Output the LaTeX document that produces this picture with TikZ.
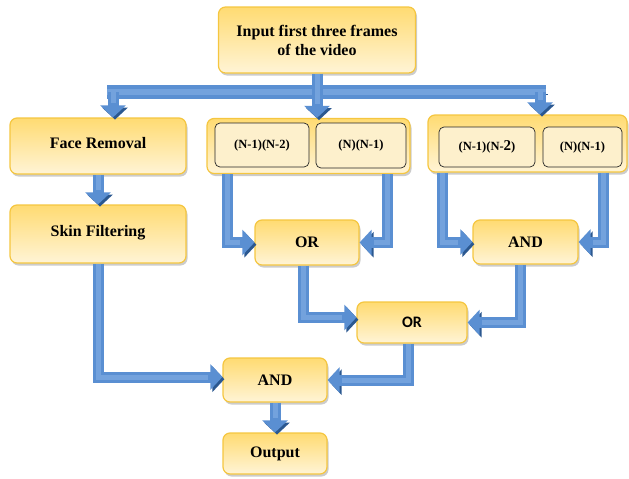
\documentclass[tikz,border=0pt]{standalone}
\usepackage{fontspec}
\setmainfont{Liberation Serif}
\newfontfamily\calib{Carlito}
\usetikzlibrary{arrows.meta,shadows,calc}
\definecolor{boxedge}{HTML}{F5C640}
\definecolor{boxtop}{HTML}{FFDB72}
\definecolor{boxbot}{HTML}{FFF4D6}
\definecolor{arrowblue}{HTML}{5A8FD2}
\definecolor{arrowlight}{HTML}{73A2DD}
\definecolor{arrowdark}{HTML}{2B5890}
\definecolor{innerfill}{HTML}{FDF0CC}
\begin{document}
\begin{tikzpicture}[x=1pt,y=-1pt,
 ybox/.style={draw=boxedge, line width=1.2pt, rounded corners=7pt, top color=boxtop, bottom color=boxbot,
   drop shadow={shadow xshift=1.5pt,shadow yshift=-2.5pt,fill=black!40,opacity=0.5},
   font=\bfseries\fontsize{16}{19}\selectfont, align=center, inner sep=0pt},
 ibox/.style={draw=black!85, line width=0.7pt, rounded corners=5pt, fill=innerfill,
   font=\bfseries\fontsize{12.5}{14}\selectfont, inner sep=0pt},
 fat/.style={draw=arrowblue, line width=11pt, -{Triangle[length=12pt,width=25pt]},
   preaction={draw=arrowdark, transform canvas={shift={(2pt,-2.2pt)}}},
   postaction={draw=arrowlight, line width=5pt, -, shorten >=14pt}},
 fatbar/.style={draw=arrowblue, line width=14pt,
   preaction={draw=arrowdark, transform canvas={shift={(2pt,-2.2pt)}}},
   postaction={draw=arrowlight, line width=6pt}},
]
\useasboundingbox (0,0) rectangle (629,479);

% boxes
\node[ybox, minimum width=197pt, minimum height=66pt] (top) at (317,40) {Input first three frames\\of the video};
\node[ybox, minimum width=176pt, minimum height=56pt] (face) at (98,146) {\raisebox{6pt}{Face Removal}};
\node[ybox, minimum width=176pt, minimum height=58pt] (skin) at (98,234) {\raisebox{7pt}{Skin Filtering}};
\node[ybox, minimum width=203pt, minimum height=55pt] (midg) at (308.5,146) {};
\node[ibox, minimum width=94pt, minimum height=44pt] (nma) at (262,145) {(N-1)(N-2)};
\node[ibox, minimum width=90pt, minimum height=45pt] (nmb) at (361,145.5) {(N)(N-1)};
\node[ybox, minimum width=199pt, minimum height=57pt] (rg) at (527.5,143.5) {};
\node[ibox, minimum width=96pt, minimum height=40pt] (nra) at (487,147) {(N-1)(N-{\fontsize{15}{15}\selectfont 2})};
\node[ibox, minimum width=79pt, minimum height=40pt] (nrb) at (582.5,147) {(N)(N-1)};
\node[ybox, minimum width=104pt, minimum height=45pt] (or1) at (307,242.5) {OR};
\node[ybox, minimum width=105pt, minimum height=44pt] (and1) at (525.5,242) {AND};
\node[ybox, minimum width=110pt, minimum height=41pt] (or2) at (412,322.5) {\calib OR};
\node[ybox, minimum width=104pt, minimum height=44pt] (and2) at (275,380) {AND};
\node[ybox, minimum width=104pt, minimum height=41pt] (out) at (275,453.5) {Output};

% bus
\coordinate (busL) at (113,92);
\coordinate (busR) at (540,92);
\draw[fatbar] ($(busL)+(-6,0)$) -- ($(busR)+(6,0)$);
\draw[fat] (busL) -- (busL |- face.north);
\draw[fat] (busR) -- (busR |- rg.north);
\draw[fat] (top.south) -- (top.south |- midg.north);

% connectors
\draw[fat] (face.south) -- (skin.north);
\draw[fat] ($(midg.south west)+(21,0)$) |- (or1.west);
\draw[fat] ($(midg.south east)+(-23,0)$) |- (or1.east);
\draw[fat] ($(rg.south west)+(15,0)$) |- (and1.west);
\draw[fat] ($(rg.south east)+(-24,0)$) |- (and1.east);
\draw[fat] ($(or1.south)+(-4,0)$) |- ($(or2.west)+(0,-5)$);
\draw[fat] ($(and1.south)+(-5,0)$) |- (or2.east);
\draw[fat] ($(or2.south)+(-4,0)$) |- (and2.east);
\draw[fat] (skin.south) |- ($(and2.west)+(0,-3)$);
\draw[fat] (and2.south) -- (out.north);
\end{tikzpicture}
\end{document}
